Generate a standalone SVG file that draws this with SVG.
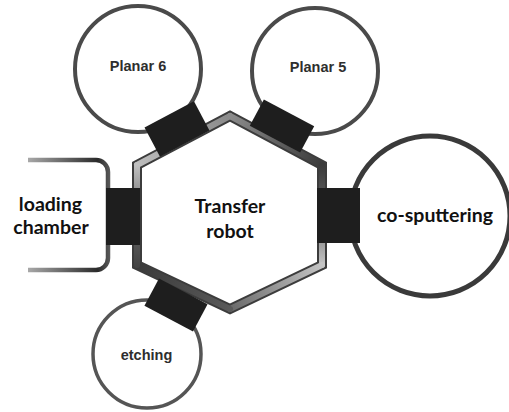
<svg xmlns="http://www.w3.org/2000/svg" width="509" height="412" viewBox="0 0 509 412">
  <defs>
    <style>
      .port { fill: #1e1e1e; }
      .chamber { fill: #ffffff; stroke: #4a4a4a; stroke-width: 4; }
      .lbl-a { font-family: "Liberation Sans", Arial, sans-serif; font-weight: bold; font-size: 14.5px; fill: #2e2e2e; text-anchor: middle; }
      .lbl-b { font-family: Lato, "Open Sans", sans-serif; font-weight: bold; font-size: 19.5px; fill: #111111; text-anchor: middle; }
      .seg { stroke-width: 6; stroke-linecap: round; fill: none; }
    </style>
    <linearGradient id="gFA" gradientUnits="userSpaceOnUse" x1="137" y1="165" x2="230" y2="116"><stop offset="0" stop-color="#bdbdbd"/><stop offset="1" stop-color="#8a8a8a"/></linearGradient>
    <linearGradient id="gAB" gradientUnits="userSpaceOnUse" x1="230" y1="116" x2="322" y2="165"><stop offset="0" stop-color="#8c8c8c"/><stop offset="1" stop-color="#3a3a3a"/></linearGradient>
    <linearGradient id="gBC" gradientUnits="userSpaceOnUse" x1="322" y1="165" x2="322" y2="265"><stop offset="0" stop-color="#3a3a3a"/><stop offset="0.5" stop-color="#6a6a6a"/><stop offset="1" stop-color="#c4c4c4"/></linearGradient>
    <linearGradient id="gCD" gradientUnits="userSpaceOnUse" x1="322" y1="265" x2="230" y2="309"><stop offset="0" stop-color="#c4c4c4"/><stop offset="1" stop-color="#6a6a6a"/></linearGradient>
    <linearGradient id="gDE" gradientUnits="userSpaceOnUse" x1="230" y1="309" x2="137" y2="265"><stop offset="0" stop-color="#5a5a5a"/><stop offset="1" stop-color="#3a3a3a"/></linearGradient>
    <linearGradient id="gEF" gradientUnits="userSpaceOnUse" x1="137" y1="265" x2="137" y2="165"><stop offset="0" stop-color="#444444"/><stop offset="0.5" stop-color="#6a6a6a"/><stop offset="1" stop-color="#c0c0c0"/></linearGradient>
    <linearGradient id="gBracket" gradientUnits="userSpaceOnUse" x1="28" y1="0" x2="110" y2="0"><stop offset="0" stop-color="#a8a8a8"/><stop offset="0.85" stop-color="#2a2a2a"/><stop offset="1" stop-color="#5a5a5a"/></linearGradient>
  </defs>

  <rect x="0" y="0" width="509" height="412" fill="#ffffff"/>

  <g id="transfer-robot">
    <polygon points="230,116 322,165 322,265 230,309 137,265 137,165" fill="#ffffff" stroke="#3c3c3c" stroke-width="10" stroke-linejoin="miter"/>
    <line class="seg" x1="137" y1="165" x2="230" y2="116" stroke="url(#gFA)"/>
    <line class="seg" x1="230" y1="116" x2="322" y2="165" stroke="url(#gAB)"/>
    <line class="seg" x1="322" y1="165" x2="322" y2="265" stroke="url(#gBC)"/>
    <line class="seg" x1="322" y1="265" x2="230" y2="309" stroke="url(#gCD)"/>
    <line class="seg" x1="230" y1="309" x2="137" y2="265" stroke="url(#gDE)"/>
    <line class="seg" x1="137" y1="265" x2="137" y2="165" stroke="url(#gEF)"/>
    <text class="lbl-b" x="230" y="213">Transfer</text>
    <text class="lbl-b" x="230" y="238">robot</text>
  </g>

  <g id="planar6">
    <circle class="chamber" cx="138" cy="69" r="63"/>
    <text class="lbl-a" x="138" y="71">Planar 6</text>
  </g>

  <g id="planar5">
    <circle class="chamber" cx="315" cy="71" r="63"/>
    <text class="lbl-a" x="318" y="72">Planar 5</text>
  </g>

  <g id="co-sputtering">
    <circle class="chamber" cx="430" cy="216" r="80" style="stroke:#3a3a3a;stroke-width:5"/>
    <text class="lbl-b" x="435" y="221.5">co-sputtering</text>
  </g>

  <g id="etching">
    <circle class="chamber" cx="147" cy="354" r="54" style="stroke:#555555;stroke-width:3.5"/>
    <text class="lbl-a" x="146.5" y="360">etching</text>
  </g>

  <g id="loading-chamber">
    <path d="M28,160 H96 A12,12 0 0 1 108,172 V258 A12,12 0 0 1 96,270 H28" fill="none" stroke="url(#gBracket)" stroke-width="4.5"/>
    <text class="lbl-b" x="50.5" y="211">loading</text>
    <text class="lbl-b" x="51" y="234">chamber</text>
  </g>

  <g id="connectors">
    <rect class="port" x="106" y="188" width="34" height="57"/>
    <rect class="port" x="317" y="188" width="43" height="55"/>
    <rect class="port" x="-28" y="-16.5" width="56" height="33" transform="translate(177,129) rotate(-28)"/>
    <rect class="port" x="-28.5" y="-15" width="57" height="30" transform="translate(282,126) rotate(28)"/>
    <rect class="port" x="-27.5" y="-15.5" width="55" height="31" transform="translate(176,305) rotate(28)"/>
  </g>
</svg>
